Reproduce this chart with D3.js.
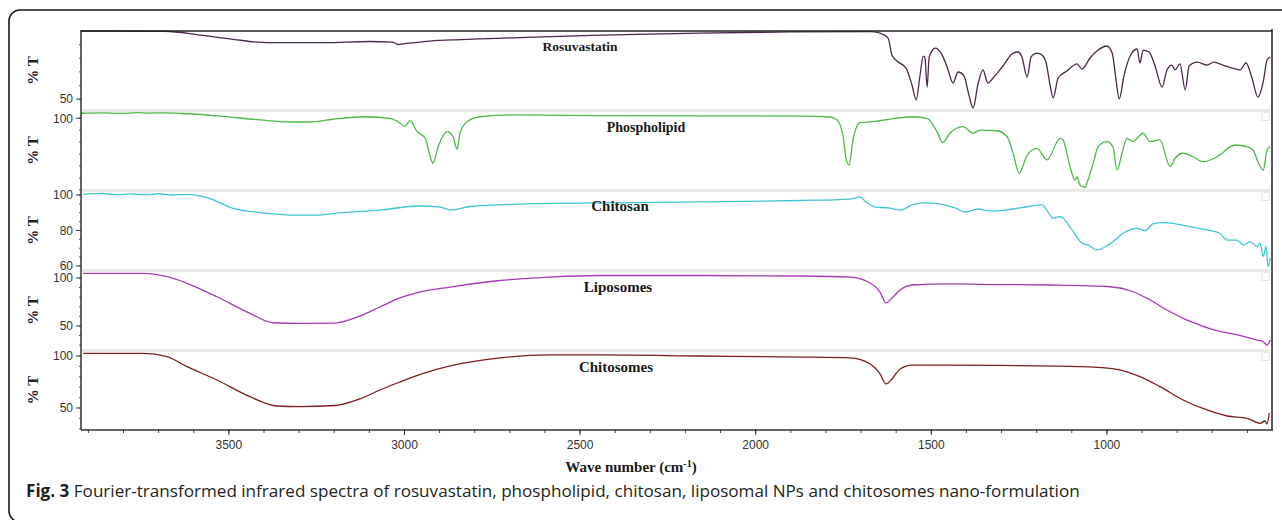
<!DOCTYPE html>
<html><head><meta charset="utf-8">
<script src="https://cdn.jsdelivr.net/npm/d3@7/dist/d3.min.js"></script>
<style>
html,body{margin:0;padding:0;background:#fff;}
svg{display:block;}
</style></head>
<body><svg id="chart" width="1282" height="520"></svg>
<script>
// ---------------- DATA ----------------
const seriesNames = ["Rosuvastatin", "Phospholipid", "Chitosan", "Liposomes", "Chitosomes"];
const xTickValues = [3500, 3000, 2500, 2000, 1500, 1000];
const wavenumberRange = [3921, 530];
const yTickValues = [[50], [100], [100, 80, 60], [100, 50], [100, 50]];
const yDomains = [[42, 100], [40, 106], [57.7, 102.25], [25, 107.3], [29.8, 104.8]];

// [wavenumber cm-1, %T]
const rosuvastatin = [[3921,100.0],[3682,99.8],[3582,97.0],[3488,93.9],[3391,91.4],[3232,91.4],[3098,92.3],[3035,91.9],[3018,90.1],[2998,90.8],[2970,91.5],[2927,92.6],[2842,93.7],[2671,95.2],[2443,97.0],[2158,98.5],[1902,99.3],[1674,99.6],[1646,98.5],[1623,94.8],[1612,82.4],[1598,78.0],[1572,72.8],[1555,60.4],[1543,49.3],[1532,67.7],[1523,81.6],[1518,80.2],[1512,58.9],[1506,80.9],[1489,87.5],[1472,83.8],[1455,73.6],[1438,61.8],[1424,69.9],[1407,67.0],[1393,53.0],[1381,43.5],[1367,61.1],[1353,71.4],[1339,61.8],[1324,65.5],[1296,74.3],[1267,83.8],[1253,84.6],[1242,80.9],[1227,66.2],[1216,80.9],[1199,83.8],[1185,82.4],[1173,76.5],[1162,60.4],[1153,50.8],[1139,65.5],[1114,70.6],[1085,75.8],[1071,72.1],[1048,80.2],[1025,86.0],[1000,89.0],[985,83.8],[974,64.0],[965,50.1],[951,67.7],[931,83.1],[914,86.8],[906,76.5],[897,86.0],[880,84.6],[863,74.3],[843,58.9],[829,71.4],[815,75.0],[806,71.4],[792,75.8],[777,56.7],[766,74.3],[743,77.2],[715,75.0],[695,77.2],[670,75.0],[643,72.8],[621,71.4],[604,76.5],[587,65.5],[570,51.5],[555,62.6],[544,78.7],[535,80.9]];

const phospholipid = [[3921,104.1],[3860,104.4],[3810,104.0],[3760,104.6],[3725,104.3],[3680,104.5],[3631,103.9],[3525,101.8],[3411,98.5],[3326,96.8],[3269,96.8],[3203,99.1],[3107,101.2],[3041,99.9],[3013,96.0],[2999,92.9],[2984,97.9],[2964,88.7],[2941,83.4],[2927,67.8],[2919,62.3],[2904,76.2],[2879,88.7],[2862,84.5],[2850,74.0],[2842,87.6],[2822,97.1],[2785,101.2],[2691,102.7],[2443,102.2],[2158,102.0],[1874,101.8],[1788,101.0],[1768,98.5],[1751,84.5],[1743,66.7],[1734,60.9],[1723,81.8],[1703,96.2],[1666,97.1],[1617,99.3],[1552,101.2],[1512,99.9],[1484,88.7],[1467,79.5],[1447,87.4],[1410,92.9],[1381,87.4],[1361,90.1],[1313,89.5],[1284,84.5],[1267,70.7],[1250,54.0],[1227,69.2],[1199,74.8],[1171,65.1],[1133,83.2],[1125,81.8],[1105,59.5],[1091,48.4],[1085,50.9],[1077,44.2],[1062,42.3],[1054,48.4],[1039,62.3],[1025,76.2],[1000,80.4],[983,76.2],[971,56.7],[957,70.7],[943,83.2],[926,80.4],[897,87.4],[877,80.4],[849,81.8],[820,59.5],[806,66.5],[783,70.7],[755,67.8],[726,63.6],[686,67.8],[635,77.6],[601,76.2],[584,73.4],[570,63.6],[555,56.7],[544,73.4],[535,76.2]];

const chitosan = [[3915,100.4],[3860,100.9],[3820,100.2],[3781,100.6],[3740,100.1],[3700,100.7],[3660,100.0],[3619,100.3],[3554,98.0],[3488,92.5],[3391,89.7],[3326,88.7],[3255,88.7],[3184,89.9],[3070,91.5],[2956,93.8],[2899,93.2],[2865,91.5],[2813,93.5],[2671,94.9],[2443,95.5],[2158,96.1],[1874,96.9],[1731,97.7],[1703,98.9],[1686,96.1],[1660,93.2],[1623,92.7],[1589,91.5],[1555,94.4],[1518,95.5],[1475,94.9],[1432,92.7],[1404,90.4],[1367,92.1],[1333,91.0],[1290,91.5],[1248,92.7],[1185,94.4],[1171,91.5],[1153,86.9],[1133,87.8],[1099,80.3],[1071,72.8],[1054,71.8],[1028,69.0],[1000,71.3],[977,74.6],[954,78.4],[914,81.2],[891,79.9],[869,83.7],[840,84.4],[772,82.5],[715,80.3],[678,78.4],[658,74.6],[629,74.6],[612,71.8],[592,73.7],[572,70.9],[564,72.8],[555,65.3],[547,70.9],[541,59.6],[535,64.5]];

const liposomes = [[3915,104.9],[3744,104.9],[3676,101.4],[3619,94.5],[3534,80.5],[3440,63.2],[3374,53.4],[3297,52.8],[3198,53.1],[3127,60.4],[3070,69.8],[3013,79.2],[2942,86.5],[2870,90.6],[2728,97.4],[2586,101.0],[2443,102.6],[2158,102.6],[1874,102.1],[1731,101.0],[1674,94.8],[1646,85.4],[1629,74.0],[1612,79.2],[1589,87.5],[1555,92.7],[1447,93.8],[1304,93.2],[1162,92.7],[991,90.9],[925,85.7],[877,77.1],[829,66.7],[783,58.0],[735,51.0],[686,45.1],[641,41.7],[601,38.2],[572,35.4],[555,33.6],[544,30.2],[535,35.4]];

const chitosomes = [[3915,102.6],[3744,102.6],[3676,99.3],[3619,89.7],[3534,76.9],[3440,60.9],[3363,51.9],[3297,51.3],[3198,52.4],[3127,58.7],[3070,67.3],[3013,75.0],[2942,83.7],[2870,90.4],[2728,98.1],[2586,101.0],[2443,101.0],[2158,100.0],[1874,99.0],[1731,98.1],[1674,92.3],[1646,82.7],[1629,73.1],[1612,77.9],[1589,87.5],[1555,91.3],[1447,91.3],[1304,90.9],[1068,89.7],[971,87.2],[906,80.1],[849,70.5],[783,57.7],[715,48.1],[658,42.3],[601,40.1],[564,35.3],[550,37.5],[544,34.6],[538,45.2]];

const seriesData = [rosuvastatin, phospholipid, chitosan, liposomes, chitosomes];
const seriesColors = ["#4a2848", "#4db848", "#3fc6cf", "#a43bb5", "#7d1d1d"];
const captionBold = "Fig. 3";
const captionText = " Fourier-transformed infrared spectra of rosuvastatin, phospholipid, chitosan, liposomal NPs and chitosomes nano-formulation";

// ---------------- LAYOUT ----------------
const L = {left: 81, right: 1272, top: 31, bottom: 430};
const panelRanges = [[110, 31], [190, 111], [270, 191], [350, 271], [429, 351]];
const labelPos = [[580, 46], [646, 127], [620, 206], [618, 287], [616, 367]];
const labelSize = [13.5, 14, 15, 15, 15];

const svg = d3.select("#chart");

// outer rounded frame
svg.append("rect").attr("x", 9).attr("y", 10).attr("width", 1300).attr("height", 512)
  .attr("rx", 11).attr("fill", "none").attr("stroke", "#1a1a1a").attr("stroke-width", 1.6);

const x = d3.scaleLinear().domain(wavenumberRange).range([L.left, L.right]);

// panel separators
panelRanges.slice(0, 4).forEach(r => {
  svg.append("line").attr("x1", L.left + 1).attr("x2", L.right - 2)
    .attr("y1", r[0] + 0.5).attr("y2", r[0] + 0.5)
    .attr("stroke", "#e8e8e8").attr("stroke-width", 3);
  svg.append("rect").attr("x", L.right - 10).attr("y", r[0] + 2.5).attr("width", 7).attr("height", 8)
    .attr("fill", "none").attr("stroke", "#e4e4e4").attr("stroke-width", 1);
});

// spectra
seriesData.forEach((data, i) => {
  const y = d3.scaleLinear().domain(yDomains[i]).range(panelRanges[i]);
  const line = d3.line().curve(d3.curveMonotoneX).x(d => x(d[0])).y(d => y(d[1]));
  svg.append("path").datum(data).attr("d", line).attr("fill", "none")
    .attr("stroke", seriesColors[i]).attr("stroke-width", 1.3).attr("stroke-linejoin", "round");

  // y axis ticks
  const g = svg.append("g").attr("transform", `translate(${L.left},0)`);
  const minor = d3.range(Math.ceil(yDomains[i][0] / 10) * 10, yDomains[i][1], i === 2 ? 5 : 10);
  g.selectAll(".mn").data(minor).enter().append("line")
    .attr("x1", -2).attr("x2", 0).attr("y1", d => y(d)).attr("y2", d => y(d))
    .attr("stroke", "#555").attr("stroke-width", 1);
  g.selectAll(".mj").data(yTickValues[i]).enter().append("line")
    .attr("x1", -5).attr("x2", 0).attr("y1", d => y(d)).attr("y2", d => y(d))
    .attr("stroke", "#333").attr("stroke-width", 1);
  g.selectAll(".tl").data(yTickValues[i]).enter().append("text")
    .attr("x", -8).attr("y", d => y(d)).attr("dy", "0.36em")
    .attr("text-anchor", "end").attr("font-family", "Liberation Sans, Arial, sans-serif")
    .attr("font-size", 12).attr("fill", "#333").text(d => d);

  // % T label
  const cy = (panelRanges[i][0] + panelRanges[i][1]) / 2;
  svg.append("text").attr("transform", `translate(38,${cy}) rotate(-90)`)
    .attr("text-anchor", "middle").attr("font-family", "Liberation Serif, Times New Roman, serif")
    .attr("font-weight", "bold").attr("font-size", 15).attr("fill", "#222").text("% T");

  // series name
  svg.append("text").attr("x", labelPos[i][0]).attr("y", labelPos[i][1]).attr("dy", "0.35em")
    .attr("text-anchor", "middle").attr("font-family", "Liberation Serif, Times New Roman, serif")
    .attr("font-weight", "bold").attr("font-size", labelSize[i]).attr("fill", "#1a1a1a").text(seriesNames[i]);
});

// frame lines
svg.append("line").attr("x1", L.left).attr("x2", L.right).attr("y1", L.top).attr("y2", L.top)
  .attr("stroke", "#222").attr("stroke-width", 1.5);
svg.append("line").attr("x1", L.right).attr("x2", L.right).attr("y1", L.top - 2).attr("y2", L.bottom)
  .attr("stroke", "#222").attr("stroke-width", 1.5);
svg.append("line").attr("x1", L.left).attr("x2", L.left).attr("y1", L.top - 1).attr("y2", L.bottom)
  .attr("stroke", "#333").attr("stroke-width", 1.5);

// x axis
const xMinor = d3.range(3900, 500, -100);
const xa = svg.append("g");
xa.append("line").attr("x1", L.left).attr("x2", L.right + 1).attr("y1", L.bottom).attr("y2", L.bottom)
  .attr("stroke", "#333").attr("stroke-width", 1.5);
xa.selectAll(".xm").data(xMinor).enter().append("line")
  .attr("x1", d => x(d)).attr("x2", d => x(d)).attr("y1", L.bottom - 1).attr("y2", L.bottom + 3)
  .attr("stroke", "#444").attr("stroke-width", 1);
xa.selectAll(".xM").data(xTickValues).enter().append("line")
  .attr("x1", d => x(d)).attr("x2", d => x(d)).attr("y1", L.bottom - 1).attr("y2", L.bottom + 5)
  .attr("stroke", "#333").attr("stroke-width", 1);
xa.selectAll(".xl").data(xTickValues).enter().append("text")
  .attr("x", d => x(d)).attr("y", 449).attr("text-anchor", "middle")
  .attr("font-family", "Liberation Sans, Arial, sans-serif").attr("font-size", 12).attr("fill", "#333")
  .text(d => d);

const xt = svg.append("text").attr("x", 631).attr("y", 472).attr("text-anchor", "middle")
  .attr("font-family", "Liberation Serif, Times New Roman, serif").attr("font-weight", "bold")
  .attr("font-size", 15).attr("fill", "#1a1a1a");
xt.append("tspan").text("Wave number (cm");
xt.append("tspan").attr("dy", -5).attr("font-size", 10).text("-1");
xt.append("tspan").attr("dy", 5).text(")");

// caption
const cap = svg.append("text").attr("x", 26).attr("y", 497)
  .attr("font-family", "Open Sans, sans-serif").attr("font-size", 17.1).attr("fill", "#231f20");
cap.append("tspan").attr("font-weight", "bold").text(captionBold);
cap.append("tspan").text(captionText);
</script>
</body></html>
